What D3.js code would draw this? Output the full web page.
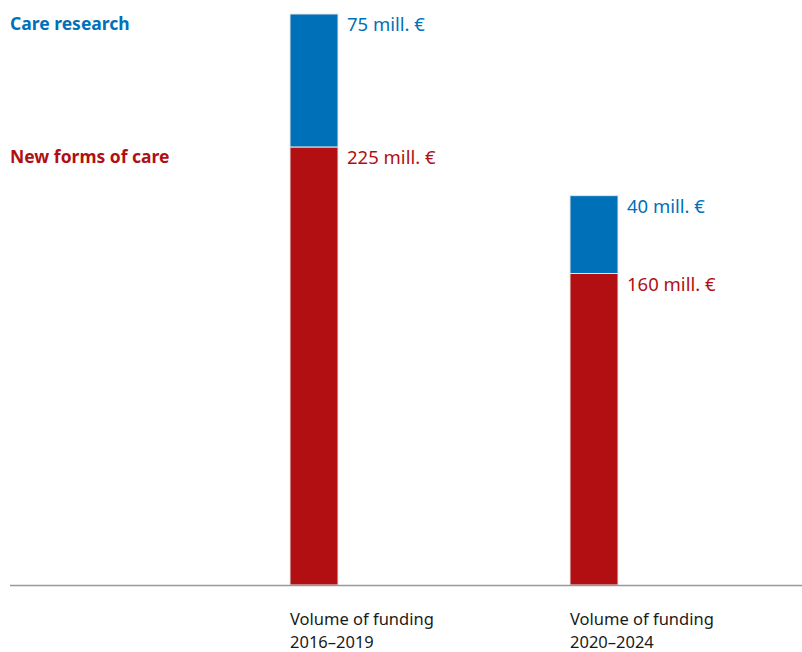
<!DOCTYPE html>
<html>
<head>
<meta charset="utf-8">
<script src="https://cdn.jsdelivr.net/npm/d3@7"></script>
<style>
  html, body { margin: 0; padding: 0; background: #fff; }
  svg { display: block; }
  text { font-family: "Noto Sans", "Open Sans", sans-serif; }
</style>
</head>
<body>
<svg id="chart" width="802" height="652"></svg>
<script>
const periods = ["2016–2019", "2020–2024"];
const categoryPrefix = "Volume of funding";
const seriesNames = ["New forms of care", "Care research"];
const newFormsOfCare = [225, 160];
const careResearch = [75, 40];
const valueLabels = [["225 mill. €", "160 mill. €"], ["75 mill. €", "40 mill. €"]];
const colors = ["#B10F12", "#0070B8"];

const svg = d3.select("#chart");

const baseY = 585, topY = 14;
const xPos = d3.scalePoint().domain(periods).range([290, 570]);
const barW = 48;
const y = d3.scaleLinear().domain([0, 293.3]).range([baseY, topY]).clamp(true);

const rows = periods.map((p, i) => ({ period: p, newForms: newFormsOfCare[i], research: careResearch[i] }));
const stack = d3.stack().keys(["newForms", "research"])(rows);

const g = svg.append("g");
stack.forEach((layer, si) => {
  g.selectAll(null).data(layer).enter().append("rect")
    .attr("x", d => xPos(d.data.period))
    .attr("width", barW)
    .attr("y", d => y(d[1]))
    .attr("height", d => y(d[0]) - y(d[1]))
    .attr("fill", colors[si])
    .attr("stroke", "#e6e6e6")
    .attr("stroke-width", 1);
  g.selectAll(null).data(layer).enter().append("text")
    .attr("x", d => xPos(d.data.period) + barW + 9)
    .attr("y", d => y(d[1]) + 17)
    .attr("fill", colors[si])
    .attr("font-size", 18.5)
    .text((d, i) => valueLabels[si][i]);
});

// baseline
svg.append("line").attr("x1", 10).attr("x2", 802).attr("y1", baseY + 0.5).attr("y2", baseY + 0.5)
  .attr("stroke", "#999").attr("stroke-width", 1.5);

// series labels at left, aligned with segment tops of first bar
stack.forEach((layer, si) => {
  svg.append("text")
    .attr("x", 10)
    .attr("y", y(layer[0][1]) + 16)
    .attr("fill", colors[si])
    .attr("font-size", 17.5)
    .attr("font-weight", "bold")
    .text(seriesNames[si]);
});

// category labels (two lines)
periods.forEach(p => {
  svg.append("text").attr("x", xPos(p)).attr("y", 625).attr("fill", "#1a1a1a").attr("font-size", 16.5)
    .text(categoryPrefix);
  svg.append("text").attr("x", xPos(p)).attr("y", 647.5).attr("fill", "#1a1a1a").attr("font-size", 16.5)
    .text(p);
});
</script>
</body>
</html>
